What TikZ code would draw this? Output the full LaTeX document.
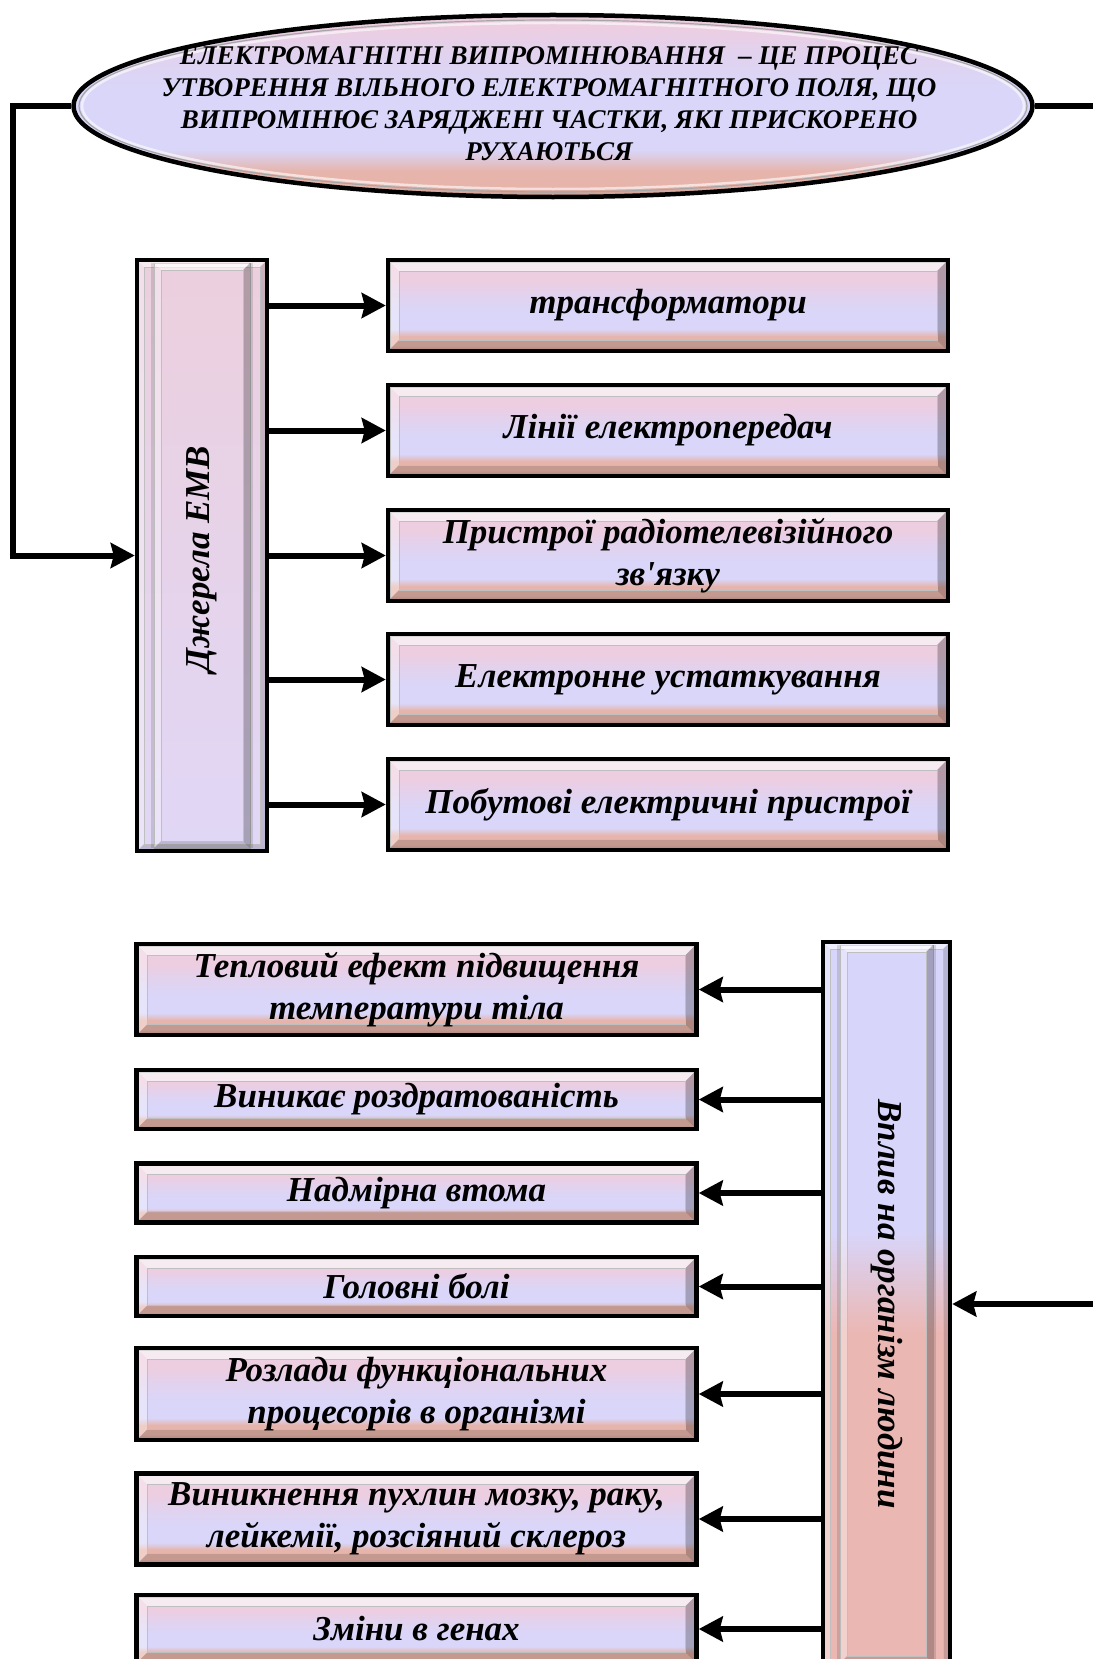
\documentclass[tikz,border=0pt]{standalone}
\usepackage{fontspec}
\setmainfont{Liberation Serif}
\usetikzlibrary{arrows.meta,shapes.geometric,calc}
\definecolor{pinkl}{HTML}{EDCDE0}
\definecolor{pinkm}{HTML}{E2D2EE}
\definecolor{lav}{HTML}{D9D6F9}
\definecolor{salm}{HTML}{E6B4AA}
\definecolor{salmd}{HTML}{CC988E}
\definecolor{pilpink}{HTML}{ECCFDD}
\definecolor{pillav}{HTML}{E0D7F6}
\definecolor{vlav}{HTML}{D8D5FA}
\definecolor{vsalm}{HTML}{EBB7B3}
\pgfdeclareverticalshading{boxshade}{100bp}{color(0bp)=(salmd); color(25bp)=(salmd); color(28bp)=(salm); color(33bp)=(salm); color(37bp)=(lav); color(46bp)=(lav); color(56bp)=(pinkm); color(64bp)=(pinkl); color(100bp)=(pinkl)}
\pgfdeclareverticalshading{ellshade}{100bp}{color(0bp)=(salmd); color(25bp)=(salmd); color(28bp)=(salm); color(32bp)=(salm); color(38bp)=(lav); color(55bp)=(lav); color(65bp)=(pinkm); color(72bp)=(pinkl); color(100bp)=(pinkl)}
\pgfdeclareverticalshading{vplshade}{100bp}{color(0bp)=(vsalm); color(48bp)=(vsalm); color(55bp)=(vlav); color(100bp)=(vlav)}
\pgfdeclareverticalshading{dzhshade}{100bp}{color(0bp)=(pillav); color(25bp)=(pillav); color(75bp)=(pilpink); color(100bp)=(pilpink)}
\newcommand\mybevel[4]{%
  \fill[white,opacity=.6] (#1) -- (#2|-#1) -- ($(#2|-#1)+(-#3,-#3)$) -- ($(#1)+(#3,-#3)$) -- cycle;
  \fill[white,opacity=.35] (#1) -- (#1|-#2) -- ($(#1|-#2)+(#3,#3)$) -- ($(#1)+(#3,-#3)$) -- cycle;
  \fill[black,opacity=#4] (#2|-#1) -- (#2) -- ($(#2)+(-#3,#3)$) -- ($(#2|-#1)+(-#3,-#3)$) -- cycle;
  \fill[black,opacity=.15] (#1|-#2) -- (#2) -- ($(#2)+(-#3,#3)$) -- ($(#1|-#2)+(#3,#3)$) -- cycle;
  \draw[black!25,line width=.6pt] ($(#1)+(#3,-#3)$) rectangle ($(#2)+(-#3,#3)$);
}
\newcommand\myboxfont{\fontsize{35}{42}\selectfont\bfseries\itshape}
\newcommand\myellfont{\fontsize{27}{32}\selectfont\bfseries\itshape}
\tikzset{
  bevelbox/.style={path picture={
    \coordinate (bnw) at ([shift={(2pt,-2pt)}]path picture bounding box.north west);
    \coordinate (bse) at ([shift={(-2pt,2pt)}]path picture bounding box.south east);
    \draw[black!40,line width=1pt] (bnw) rectangle (bse);
    \mybevel{bnw}{bse}{9pt}{.25}
  }},
  pillarbox/.style={path picture={
    \coordinate (pnw) at ([shift={(2pt,-2pt)}]path picture bounding box.north west);
    \coordinate (pse) at ([shift={(-2pt,2pt)}]path picture bounding box.south east);
    \mybevel{pnw}{pse}{5pt}{.15}
    \coordinate (qnw) at ($(pnw)+(15pt,-1pt)$);
    \coordinate (qse) at ($(pse)+(-15pt,1pt)$);
    \fill[black,opacity=.12] ($(qnw)+(-3pt,0pt)$) rectangle (qnw|-qse);
    \fill[black,opacity=.12] (qse|-qnw) rectangle ($(qse)+(3pt,0pt)$);
    \draw[black!40,line width=1pt] (qnw) rectangle (qse);
    \mybevel{qnw}{qse}{7pt}{.25}
  }},
  rbox/.style={draw=black, line width=4.5pt, shading=boxshade, bevelbox,
    minimum width=560pt, inner sep=0pt, align=center, font=\myboxfont},
  pillar/.style={draw=black, line width=4.5pt, pillarbox, inner sep=0pt},
  vtext/.style={font=\myboxfont, inner sep=0pt},
  arr/.style={line width=6pt, -{Stealth[length=24pt,width=25pt,inset=3pt]}},
}
\begin{document}
\begin{tikzpicture}[x=1pt,y=-1pt]
\useasboundingbox (0,0) rectangle (1092,1659);
\fill[white] (0,0) rectangle (1092,1659);

% ellipse
\node[shape=ellipse, draw=black, line width=4.5pt, shading=ellshade,
      minimum width=959pt, minimum height=182pt, inner sep=0pt] (ell) at (553,106) {};
\draw[black!35, line width=1.2pt] (ell.center) ellipse [x radius=474pt, y radius=86pt];
\draw[white, opacity=.6, line width=2.5pt] (ell.center) ellipse [x radius=471pt, y radius=83pt];
\node[font=\myellfont, align=center, inner sep=0pt] (elltext) at (549,104)
  {ЕЛЕКТРОМАГНІТНІ ВИПРОМІНЮВАННЯ \ – ЦЕ ПРОЦЕС\\
   УТВОРЕННЯ ВІЛЬНОГО ЕЛЕКТРОМАГНІТНОГО ПОЛЯ, ЩО\\
   ВИПРОМІНЮЄ ЗАРЯДЖЕНІ ЧАСТКИ, ЯКІ ПРИСКОРЕНО\\
   РУХАЮТЬСЯ};

% sources pillar
\node[pillar, shading=dzhshade, minimum width=130pt, minimum height=591pt] (dzh) at (202,555.5) {};
\node[vtext, rotate=90] (dzhtext) at (202,559) {Джерела ЕМВ};

% source boxes
\node[rbox, minimum height=91pt] (t1) at (668,305.5) {трансформатори};
\node[rbox, minimum height=91pt] (t2) at (668,430.5) {Лінії електропередач};
\node[rbox, minimum height=91pt] (t3) at (668,555.5) {Пристрої радіотелевізійного\\зв\textquotesingle язку};
\node[rbox, minimum height=91pt] (t4) at (668,679.5) {Електронне устаткування};
\node[rbox, minimum height=91pt] (t5) at (668,804.5) {Побутові електричні пристрої};

% effects pillar
\node[pillar, shading=vplshade, minimum width=127pt, minimum height=724pt] (vpl) at (886.5,1304) {};
\node[vtext, rotate=-90] (vpltext) at (887,1304) {Вплив на організм людини};

% effect boxes
\node[rbox, minimum height=91pt] (b1) at (416.5,989.5) {Тепловий ефект підвищення\\температури тіла};
\node[rbox, minimum height=59pt] (b2) at (416.5,1099.5) {Виникає роздратованість};
\node[rbox, minimum height=59pt] (b3) at (416.5,1193) {Надмірна втома};
\node[rbox, minimum height=59pt] (b4) at (416.5,1286.5) {Головні болі};
\node[rbox, minimum height=92pt] (b5) at (416.5,1394) {Розлади функціональних\\процесорів в організмі};
\node[rbox, minimum height=91pt] (b6) at (416.5,1519) {Виникнення пухлин мозку, раку,\\лейкемії, розсіяний склероз};
\node[rbox, minimum height=68pt] (b7) at (416.5,1629) {Зміни в генах};

% connectors
\coordinate (lc) at (13,106);
\coordinate (rc) at (1115,106);
\draw[arr] (ell.west) -- (lc) |- (dzh.west);
\draw[arr] (ell.east) -- (rc) |- (vpl.east);
\foreach \t in {t1,t2,t3,t4,t5}
  \draw[arr] (dzh.east |- \t.west) -- (\t.west);
\foreach \b in {b1,b2,b3,b4,b5,b6,b7}
  \draw[arr] (vpl.west |- \b.east) -- (\b.east);
\end{tikzpicture}
\end{document}
